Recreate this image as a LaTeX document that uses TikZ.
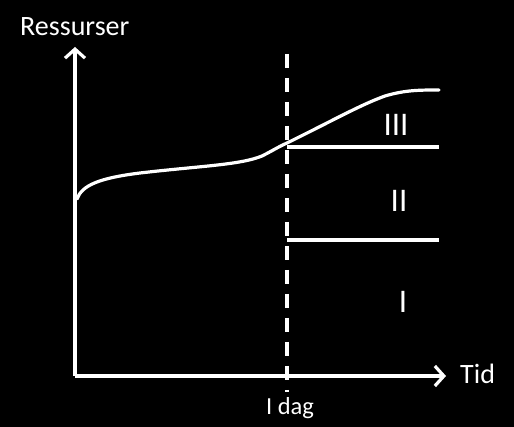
\documentclass[tikz,border=0pt]{standalone}
\usepackage{fontspec}
\setmainfont{Carlito}
\usetikzlibrary{arrows.meta}
\begin{document}
\begin{tikzpicture}[x=1pt,y=-1pt,
  line/.style={draw=white,line width=3.2pt},
  axis/.style={line,-{Straight Barb[length=9pt,width=20pt,line width=3.2pt]}},
  lbl/.style={text=white,inner sep=0pt,font=\fontsize{28}{32}\selectfont},
  small/.style={text=white,inner sep=0pt,font=\fontsize{24.5}{28}\selectfont},
  roman/.style={text=white,inner sep=0pt,font=\fontsize{33}{36}\selectfont}]
\fill[black] (0,0) rectangle (514,427);
\useasboundingbox (0,0) rectangle (514,427);
\coordinate (o) at (75,376);
\coordinate (yt) at (75,47);
\coordinate (xe) at (446,376);
\coordinate (dt) at (287,54);
\coordinate (db) at (287,392);
\coordinate (h1a) at (287,147);
\coordinate (h1b) at (439,147);
\coordinate (h2a) at (287,240);
\coordinate (h2b) at (439,240);
\draw[line,dash pattern=on 14pt off 10pt] (dt) -- (db);
\draw[axis] (o) -- (yt);
\draw[axis] (o) -- (xe);
\draw[line] (h1a) -- (h1b);
\draw[line] (h2a) -- (h2b);
\draw[line,line cap=round] (77,199) .. controls (82,185) and (100,178) .. (140,173)
  .. controls (200,166) and (240,165) .. (262,156)
  .. controls (272,151) and (278,147) .. (287,143)
  .. controls (330,122) and (360,105) .. (385,96)
  .. controls (405,90) and (420,90) .. (439,90);
\node[lbl,anchor=base west] (res) at (20,36) {Ressurser};
\node[lbl,anchor=west] (tid) at (460,374) {Tid};
\node[small] (idag) at (290,408) {I dag};
\node[roman] (r3) at (396,125) {III};
\node[roman] (r2) at (399,201) {II};
\node[roman] (r1) at (403,302) {I};
\end{tikzpicture}
\end{document}
